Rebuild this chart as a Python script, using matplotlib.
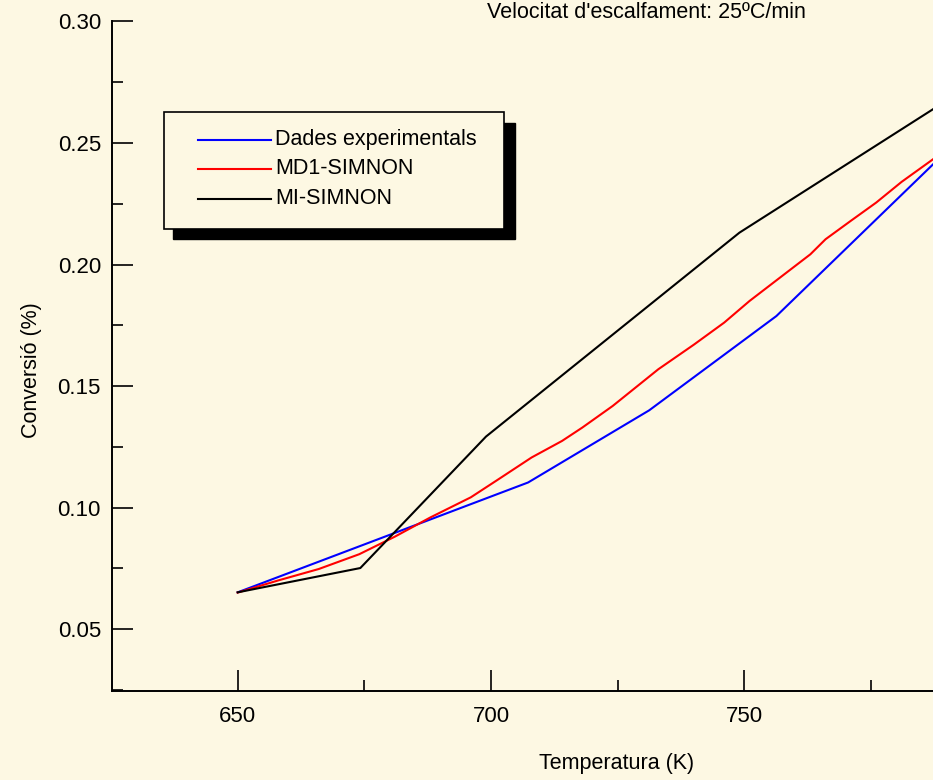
import matplotlib
matplotlib.use("Agg")
import matplotlib.pyplot as plt
from matplotlib.patches import Rectangle
from matplotlib.lines import Line2D
from matplotlib.ticker import MultipleLocator, FormatStrFormatter

plt.rcParams["font.family"] = ["Liberation Sans", "DejaVu Sans"]

# data
temp_exp = [650, 707.3, 731.2, 756.3, 787.2]
conv_exp = [0.0651, 0.1103, 0.1400, 0.1788, 0.2412]

temp_md1 = [650, 658, 666, 674, 681, 688, 696, 701, 708, 714, 718, 724,
            733, 740, 746, 751, 757, 763, 766, 771, 776, 781, 787.2]
conv_md1 = [0.0650, 0.0700, 0.0747, 0.0808, 0.0880, 0.0959, 0.1042, 0.1110,
            0.1206, 0.1274, 0.1329, 0.1418, 0.1569, 0.1670, 0.1761, 0.1850,
            0.1946, 0.2042, 0.2104, 0.2180, 0.2255, 0.2340, 0.2433]

temp_mi = [650, 674.2, 699.0, 749.0, 787.2]
conv_mi = [0.0651, 0.0751, 0.1292, 0.2131, 0.2639]

labels = ["Dades experimentals", "MD1-SIMNON", "MI-SIMNON"]
colors = ["#0000ff", "#ff0000", "#000000"]

bg = "#fdf8e3"
W, H = 933, 780
fs = 15.5

fig = plt.figure(figsize=(W / 100, H / 100), dpi=100, facecolor=bg)
ax = fig.add_axes([112 / W, 1 - 691 / H, (W - 112) / W, (691 - 21.5) / H])
ax.set_facecolor(bg)

ax.plot(temp_exp, conv_exp, color=colors[0], lw=1.5)
ax.plot(temp_md1, conv_md1, color=colors[1], lw=1.5)
ax.plot(temp_mi, conv_mi, color=colors[2], lw=1.5)

ax.set_xlim(625.2, 787.2)
ax.set_ylim(0.0245, 0.30)

ax.spines["top"].set_visible(False)
ax.spines["right"].set_visible(False)
for s in ["left", "bottom"]:
    ax.spines[s].set_linewidth(1.4)

ax.xaxis.set_major_locator(MultipleLocator(50))
ax.xaxis.set_minor_locator(MultipleLocator(25))
ax.yaxis.set_major_locator(MultipleLocator(0.05))
ax.yaxis.set_minor_locator(MultipleLocator(0.025))
ax.yaxis.set_major_formatter(FormatStrFormatter("%.2f"))

ax.tick_params(which="major", direction="in", length=15, width=1.2,
               labelsize=16, colors="black")
ax.tick_params(which="minor", direction="in", length=8, width=1.2)
ax.tick_params(axis="x", which="major", pad=11)
ax.tick_params(axis="y", which="major", pad=8)

fig.text(646 / W, 1 - 13 / H, "Velocitat d'escalfament: 25ºC/min",
         ha="center", va="center", fontsize=fs)
fig.text(617 / W, 1 - 763 / H, "Temperatura (K)", ha="center", va="center",
         fontsize=fs)
fig.text(31 / W, 1 - 370 / H, "Conversió (%)", ha="center", va="center",
         rotation=90, fontsize=fs)

# legend box with shadow, drawn by hand
def fx(px):
    return px / W

def fy(py):
    return 1 - py / H

fig.add_artist(Rectangle((fx(173), fy(239)), fx(515) - fx(173), fy(123) - fy(239),
                         transform=fig.transFigure, facecolor="black",
                         edgecolor="black", lw=1))
fig.add_artist(Rectangle((fx(164), fy(229)), fx(504) - fx(164), fy(112) - fy(229),
                         transform=fig.transFigure, facecolor=bg,
                         edgecolor="black", lw=1.2))
for i, (lab, c) in enumerate(zip(labels, colors)):
    yy = fy(139.5 + i * 29.5)
    fig.add_artist(Line2D([fx(198), fx(271)], [yy, yy], color=c, lw=1.5,
                          transform=fig.transFigure))
    fig.text(fx(275), yy, lab, ha="left", va="center", fontsize=fs)

fig.savefig("out.png", dpi=100, facecolor=bg)
